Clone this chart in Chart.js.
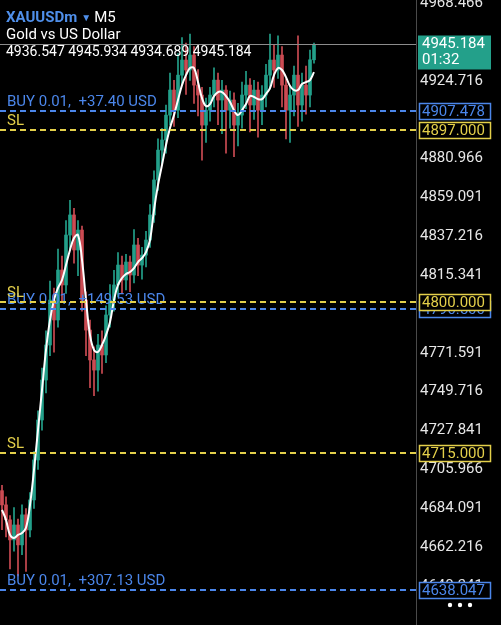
<!DOCTYPE html>
<html>
<head>
<meta charset="utf-8">
<script src="https://cdn.jsdelivr.net/npm/chart.js@4.4.0/dist/chart.umd.min.js"></script>
<style>
  html, body { margin: 0; padding: 0; background: #000; }
  #wrap { position: relative; width: 501px; height: 625px; }
</style>
</head>
<body>
<div id="wrap"><canvas id="chart" width="501" height="625"></canvas></div>
<script>
// XAUUSDm M5 candles, oldest first
const opens  = [4694.0,4686.0,4677.6,4666.3,4674.7,4663.5,4680.4,4671.9,4688.8,4711.3,
                4733.8,4756.3,4776.0,4801.3,4790.1,4818.2,4809.8,4837.9,4849.2,4829.5,
                4840.7,4801.3,4784.4,4767.6,4761.9,4776.0,4770.4,4792.9,4801.3,4809.8,
                4821.0,4812.6,4822.7,4815.4,4832.3,4821.0,4826.6,4835.1,4849.2,4868.9,
                4885.7,4891.4,4905.4,4919.5,4908.2,4927.9,4936.4,4930.8,4939.2,4922.3,
                4916.7,4899.8,4908.2,4916.7,4925.1,4913.9,4919.5,4908.2,4913.9,4899.8,
                4905.4,4916.7,4922.3,4911.1,4919.5,4908.2,4916.7,4927.9,4936.4,4930.8,
                4939.2,4922.3,4908.2,4916.7,4927.9,4911.1,4922.3,4916.7,4936.547];
const highs  = [4697.0,4690.5,4680.0,4684.5,4678.0,4686.0,4684.0,4693.0,4716.0,4739.0,
                4763.0,4784.0,4812.0,4808.0,4830.0,4826.0,4846.0,4857.5,4853.0,4846.0,
                4843.0,4806.0,4790.0,4775.0,4782.0,4784.0,4798.0,4810.0,4818.0,4828.0,
                4826.0,4827.0,4826.0,4841.0,4836.0,4831.0,4840.0,4855.0,4874.0,4892.0,
                4898.0,4911.0,4929.0,4925.0,4940.0,4949.0,4946.0,4951.0,4944.0,4931.0,
                4921.0,4915.0,4921.0,4932.0,4929.0,4925.0,4922.0,4919.0,4918.0,4912.0,
                4924.0,4930.0,4926.0,4925.0,4924.0,4922.0,4934.0,4951.0,4945.0,4950.0,
                4944.0,4926.0,4922.0,4933.0,4950.0,4929.0,4933.0,4942.0,4945.934];
const lows   = [4672.0,4668.0,4650.0,4660.0,4646.0,4658.0,4648.5,4668.0,4684.0,4706.0,
                4728.0,4749.0,4770.0,4772.0,4786.0,4800.0,4805.0,4830.0,4822.0,4815.0,
                4795.0,4770.0,4752.0,4747.5,4750.0,4760.0,4766.0,4786.0,4795.0,4803.0,
                4805.0,4807.0,4806.0,4811.0,4815.0,4813.0,4820.0,4831.0,4845.0,4863.0,
                4878.0,4884.0,4900.0,4899.0,4904.0,4922.0,4917.0,4925.0,4912.0,4905.0,
                4880.0,4890.0,4902.0,4910.0,4900.0,4895.0,4884.0,4898.0,4882.0,4888.0,
                4898.0,4909.0,4896.0,4903.0,4893.0,4900.0,4910.0,4920.0,4921.0,4926.0,
                4910.0,4892.0,4890.0,4905.0,4899.0,4902.0,4906.0,4910.0,4934.689];
const closes = [4686.0,4677.6,4666.3,4674.7,4663.5,4680.4,4671.9,4688.8,4711.3,4733.8,
                4756.3,4776.0,4801.3,4790.1,4818.2,4809.8,4837.9,4849.2,4829.5,4840.7,
                4801.3,4784.4,4767.6,4761.9,4776.0,4770.4,4792.9,4801.3,4809.8,4821.0,
                4812.6,4822.7,4815.4,4832.3,4821.0,4826.6,4835.1,4849.2,4868.9,4885.7,
                4891.4,4905.4,4919.5,4908.2,4927.9,4936.4,4930.8,4939.2,4922.3,4916.7,
                4899.8,4908.2,4916.7,4925.1,4913.9,4919.5,4908.2,4913.9,4899.8,4905.4,
                4916.7,4922.3,4911.1,4919.5,4908.2,4916.7,4927.9,4936.4,4930.8,4939.2,
                4922.3,4908.2,4916.7,4927.9,4911.1,4922.3,4916.7,4936.547,4945.184];
// white moving average
const ma     = [4683.2,4677.6,4669.1,4667.4,4669.1,4670.2,4673.1,4686.0,4705.7,4728.2,
                4750.7,4773.2,4790.1,4801.3,4808.1,4812.6,4821.0,4829.5,4836.2,4837.9,
                4823.9,4801.3,4781.6,4773.2,4772.1,4776.0,4781.6,4788.9,4801.3,4809.8,
                4813.7,4816.0,4817.1,4819.3,4822.7,4824.9,4828.3,4835.1,4852.0,4866.1,
                4877.3,4888.6,4898.1,4905.4,4913.9,4922.3,4927.9,4931.9,4931.9,4924.0,
                4915.0,4910.5,4911.6,4916.1,4918.4,4918.4,4916.1,4912.8,4908.2,4905.4,
                4908.2,4911.6,4916.1,4915.6,4914.4,4914.4,4917.3,4920.6,4927.9,4931.9,
                4930.8,4926.8,4921.8,4919.5,4919.5,4922.9,4924.0,4925.1,4929.6];

// price axis labels shown on the right
const axisTicks = [4968.466,4924.716,4880.966,4859.091,4837.216,4815.341,4793.466,
                   4771.591,4749.716,4727.841,4705.966,4684.091,4662.216,4640.341];

// trade levels
const levelPrices = [4907.478, 4796.500, 4638.047, 4897.000, 4800.000, 4715.000];
const levelKinds  = ['buy', 'buy', 'buy', 'sl', 'sl', 'sl'];
const levelTexts  = ['BUY 0.01,  +37.40 USD', 'BUY 0.01,  +149.53 USD', 'BUY 0.01,  +307.13 USD', 'SL', 'SL', 'SL'];
const levelBoxes  = ['4907.478', '4796.500', '4638.047', '4897.000', '4800.000', '4715.000'];

const lastPrice = 4945.184;
const timer = '01:32';
const totalSlots = 104;

const labels = [];
for (let i = 0; i < totalSlots; i++) labels.push(String(i));

const UP = '#23a08a', DOWN = '#cc4b53';
const colors = opens.map((o, i) => closes[i] >= o ? UP : DOWN);
const BLUE = '#4b86ea', YELLOW = '#e3cf4a';

const overlay = {
  id: 'overlay',
  afterDraw(chart) {
    const ctx = chart.ctx, ca = chart.chartArea, y = chart.scales.y;
    ctx.save();
    // current price line
    const yp = Math.round(y.getPixelForValue(lastPrice)) + 0.5;
    ctx.strokeStyle = '#8c8c8c';
    ctx.lineWidth = 1;
    ctx.beginPath(); ctx.moveTo(ca.left, yp); ctx.lineTo(ca.right, yp); ctx.stroke();

    // dashed levels + labels
    ctx.font = '15px Roboto';
    ctx.textBaseline = 'bottom';
    ctx.textAlign = 'left';
    levelPrices.forEach((p, i) => {
      const c = levelKinds[i] === 'buy' ? BLUE : YELLOW;
      const py = Math.round(y.getPixelForValue(p));
      ctx.strokeStyle = c;
      ctx.lineWidth = 2;
      ctx.setLineDash([6, 4]);
      ctx.beginPath(); ctx.moveTo(ca.left, py); ctx.lineTo(ca.right, py); ctx.stroke();
      ctx.setLineDash([]);
      ctx.fillStyle = c;
      ctx.fillText(levelTexts[i], 7, py - 1);
    });

    // boxes on axis
    ctx.textBaseline = 'middle';
    levelPrices.forEach((p, i) => {
      const c = levelKinds[i] === 'buy' ? BLUE : YELLOW;
      const py = Math.round(y.getPixelForValue(p));
      ctx.fillStyle = '#000';
      ctx.fillRect(419, py - 8, 72, 16);
      ctx.strokeStyle = c;
      ctx.lineWidth = 1.5;
      ctx.strokeRect(419.5, py - 7.5, 71, 16);
      ctx.fillStyle = c;
      ctx.fillText(levelBoxes[i], 422, py + 1);
    });

    // last price box
    ctx.fillStyle = '#23a08a';
    ctx.fillRect(418, yp - 9, 73, 34);
    ctx.fillStyle = '#fff';
    ctx.fillText(lastPrice.toFixed(3), 422, yp);
    ctx.fillText(timer, 422, yp + 16);

    // header
    ctx.textBaseline = 'middle';
    ctx.font = 'bold 15px Roboto';
    ctx.fillStyle = '#4f8fea';
    ctx.fillText('XAUUSDm', 6, 18);
    let x = 6 + ctx.measureText('XAUUSDm').width + 4;
    ctx.font = '10px Roboto';
    ctx.fillText('▼', x, 18);
    x += ctx.measureText('▼').width + 3;
    ctx.font = '15px Roboto';
    ctx.fillStyle = '#fff';
    ctx.fillText('M5', x, 18);
    ctx.fillText('Gold vs US Dollar', 6, 35);
    ctx.font = '14px Roboto';
    ctx.fillText([opens[opens.length-1], highs[highs.length-1], lows[lows.length-1], closes[closes.length-1]].map(v => v.toFixed(3)).join(' '), 6, 52);

    // menu dots
    ctx.fillStyle = '#fff';
    [450, 460, 470].forEach(dx => { ctx.beginPath(); ctx.arc(dx, 605, 2.2, 0, Math.PI * 2); ctx.fill(); });
    ctx.restore();
  }
};

new Chart(document.getElementById('chart'), {
  type: 'bar',
  data: {
    labels: labels,
    datasets: [
      {
        type: 'line',
        data: ma,
        borderColor: '#ffffff',
        borderWidth: 2,
        pointRadius: 0,
        tension: 0.4,
        order: 0
      },
      {
        data: opens.map((o, i) => [o, closes[i]]),
        backgroundColor: colors,
        barThickness: 3,
        minBarLength: 1,
        grouped: false,
        order: 1
      },
      {
        data: lows.map((l, i) => [l, highs[i]]),
        backgroundColor: colors,
        barThickness: 1,
        grouped: false,
        order: 2
      }
    ]
  },
  options: {
    responsive: false,
    animation: false,
    devicePixelRatio: 1,
    layout: { padding: 0 },
    plugins: { legend: { display: false }, tooltip: { enabled: false } },
    scales: {
      x: { display: false, offset: true, grid: { display: false } },
      y: {
        position: 'right',
        min: 4618.4,
        max: 4970.2,
        grid: { display: false, drawTicks: false },
        border: { display: true, color: '#4a4a4a', width: 1 },
        ticks: {
          color: '#e6e6e6',
          font: { family: 'Roboto', size: 15 },
          padding: 4,
          autoSkip: false,
          callback: v => Number(v).toFixed(3)
        },
        afterBuildTicks: s => { s.ticks = axisTicks.map(v => ({ value: v })); },
        afterFit: s => { s.width = 85; s.paddingTop = 0; s.paddingBottom = 0; }
      }
    }
  },
  plugins: [overlay]
});
</script>
</body>
</html>
